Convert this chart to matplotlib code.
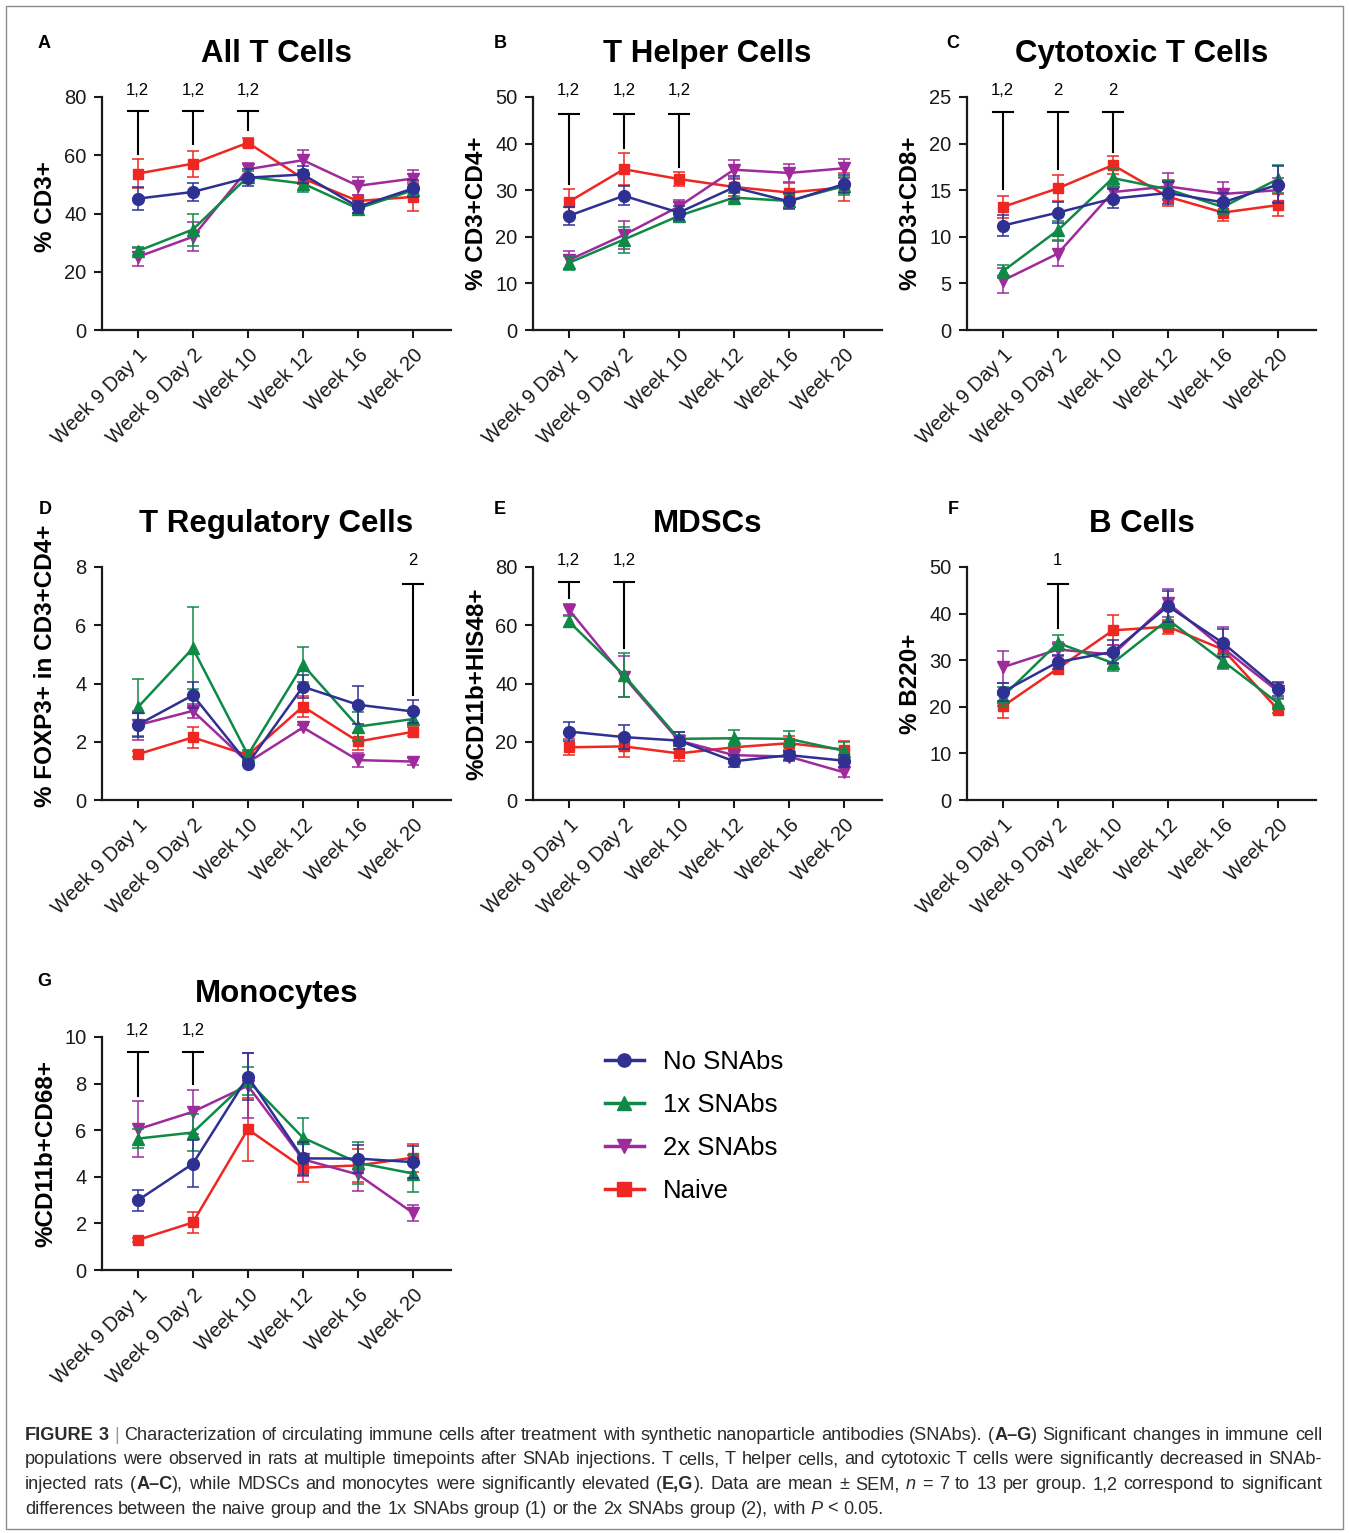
import matplotlib
matplotlib.use('Agg')
import matplotlib.pyplot as plt
from matplotlib.lines import Line2D
from matplotlib.patches import Rectangle

plt.rcParams['font.family'] = ['Liberation Sans', 'DejaVu Sans']

timepoints = ['Week 9 Day 1', 'Week 9 Day 2', 'Week 10', 'Week 12', 'Week 16', 'Week 20']
groups = ['No SNAbs', '1x SNAbs', '2x SNAbs', 'Naive']
group_colors = ['#2E3192', '#0E8A46', '#9E2A9C', '#EE2722']
group_markers = ['o', '^', 'v', 's']
group_msize = [8.5, 8.5, 8.5, 7.5]

# means / SEM per group, order: No SNAbs, 1x, 2x, Naive
cd3_mean = [[45.1, 47.4, 52.3, 53.4, 42.3, 48.6],
            [27.1, 34.5, 52.6, 50.3, 41.7, 48.0],
            [25.1, 32.0, 55.2, 58.3, 49.5, 52.0],
            [53.7, 57.1, 64.3, 52.0, 44.3, 45.7]]
cd3_sem = [[4, 3, 3, 3, 2, 3],
           [1.5, 5.5, 2, 3, 1.5, 2],
           [3, 5, 2, 3.5, 3, 3],
           [5, 4.4, 1.5, 2, 2, 5]]
cd3_sig = [(0, 60.5, 75.3, '1,2'), (1, 63.9, 75.3, '1,2'), (2, 68.5, 75.3, '1,2')]

cd4_mean = [[24.5, 28.8, 25.2, 30.6, 27.6, 31.3],
            [14.4, 19.4, 24.5, 28.4, 27.7, 30.9],
            [15.0, 20.4, 26.5, 34.4, 33.7, 34.7],
            [27.5, 34.5, 32.4, 30.7, 29.5, 30.6]]
cd4_sem = [[2, 2, 1.5, 2.5, 1.7, 2],
           [1.5, 2.8, 1.2, 1, 1.5, 2],
           [2, 3, 1.3, 2, 2, 2],
           [2.7, 3.4, 1.5, 2, 2, 3]]
cd4_sig = [(0, 31.3, 46.4, '1,2'), (1, 39.1, 46.4, '1,2'), (2, 35.0, 46.4, '1,2')]

cd8_mean = [[11.2, 12.6, 14.1, 14.7, 13.7, 15.6],
            [6.3, 10.7, 16.3, 15.1, 13.2, 16.2],
            [5.3, 8.2, 14.8, 15.4, 14.6, 15.0],
            [13.2, 15.2, 17.7, 14.3, 12.6, 13.4]]
cd8_sem = [[1.1, 1.1, 1.0, 1.2, 1.0, 2.0],
           [0.7, 1.0, 1.0, 1.0, 0.8, 1.5],
           [1.3, 1.3, 0.8, 1.4, 1.3, 1.3],
           [1.2, 1.4, 1.0, 1.0, 0.9, 1.2]]
cd8_sig = [(0, 15.1, 23.4, '1,2'), (1, 17.3, 23.4, '2'), (2, 19.1, 23.4, '2')]

treg_mean = [[2.58, 3.60, 1.25, 3.89, 3.27, 3.04],
             [3.18, 5.21, 1.55, 4.64, 2.52, 2.78],
             [2.57, 3.06, 1.29, 2.49, 1.37, 1.32],
             [1.57, 2.15, 1.54, 3.21, 2.01, 2.34]]
treg_sem = [[0.4, 0.45, 0.05, 0.4, 0.65, 0.4],
            [0.98, 1.4, 0.15, 0.6, 0.5, 0.2],
            [0.5, 0.25, 0.05, 0.1, 0.25, 0.12],
            [0.1, 0.35, 0.1, 0.35, 0.3, 0.15]]
treg_sig = [(5, 3.6, 7.43, '2')]

mdsc_mean = [[23.5, 21.6, 20.4, 13.3, 15.4, 13.5],
             [61.3, 42.9, 21.0, 21.2, 21.0, 16.9],
             [65.4, 42.3, 20.4, 15.4, 14.9, 9.5],
             [18.1, 18.4, 16.0, 18.1, 19.5, 17.3]]
mdsc_sem = [[3.3, 4, 3, 2, 1.5, 2],
            [2, 7.5, 2.5, 2.8, 2.8, 3],
            [2, 7, 2, 1.5, 1.5, 1.5],
            [2.7, 3.8, 2.5, 3, 2.5, 3]]
mdsc_sig = [(0, 69.2, 74.9, '1,2'), (1, 52.1, 74.9, '1,2')]

bcell_mean = [[23.2, 29.6, 31.8, 41.6, 33.7, 23.8],
              [22.2, 33.7, 29.4, 38.7, 29.8, 20.8],
              [28.5, 32.3, 31.2, 42.3, 32.6, 23.3],
              [20.1, 28.2, 36.4, 37.2, 32.3, 19.4]]
bcell_sem = [[2, 1.5, 2.5, 3.3, 3, 1.5],
             [2, 1.8, 1.8, 2, 1.5, 1],
             [3.5, 1.5, 2, 3, 4.5, 1.7],
             [2.5, 0.8, 3.2, 1.5, 1.5, 0.8]]
bcell_sig = [(1, 36.9, 46.4, '1')]

mono_mean = [[2.99, 4.56, 8.30, 4.79, 4.78, 4.63],
             [5.64, 5.90, 8.13, 5.68, 4.60, 4.14],
             [6.04, 6.79, 7.91, 4.75, 4.10, 2.45],
             [1.29, 2.04, 6.04, 4.39, 4.49, 4.82]]
mono_sem = [[0.45, 1.0, 1.0, 0.7, 0.6, 0.7],
            [0.4, 0.8, 0.6, 0.85, 0.9, 0.8],
            [1.2, 0.95, 1.4, 0.7, 0.7, 0.35],
            [0.1, 0.45, 1.35, 0.6, 0.7, 0.6]]
mono_sig = [(0, 7.48, 9.35, '1,2'), (1, 7.99, 9.35, '1,2')]

caption_lines = [
    "*FIGURE 3* | Characterization of circulating immune cells after treatment with synthetic nanoparticle "
    "antibodies (SNAbs). (*A–G*) Significant changes in immune cell",
    "populations were observed in rats at multiple timepoints after SNAb injections. T cells, T helper cells, "
    "and cytotoxic T cells were significantly decreased in SNAb-",
    "injected rats (*A–C*), while MDSCs and monocytes were significantly elevated (*E,G*). Data are mean ± SEM, "
    "_n_ = 7 to 13 per group. 1,2 correspond to significant",
    "differences between the naive group and the 1x SNAbs group (1) or the 2x SNAbs group (2), with _P_ < 0.05.",
]

W, H = 1349, 1533
fig = plt.figure(figsize=(W / 100, H / 100), dpi=100)
fig.patch.set_facecolor('white')


def add_panel(left, top, width, height):
    return fig.add_axes([left / W, 1 - (top + height) / H, width / W, height / H])


def draw_panel(ax, letter, letter_xy, title, ylabel, means, sems, ymax, ystep, sig, label_y=0.5):
    x = list(range(len(timepoints)))
    for gi in [3, 2, 1, 0]:
        ax.errorbar(x, means[gi], yerr=sems[gi], color=group_colors[gi],
                    marker=group_markers[gi], ms=group_msize[gi], lw=1.8,
                    elinewidth=1.1, capsize=4, capthick=1.1, clip_on=False,
                    zorder=3 + (3 - gi))
    for xi, lo, hi, lab in sig:
        ax.plot([xi, xi], [lo, hi], color='black', lw=1.5, clip_on=False, zorder=8)
        ax.plot([xi - 0.18, xi + 0.18], [hi, hi], color='black', lw=1.5,
                clip_on=False, zorder=8)
        ax.annotate(lab, xy=(xi, ymax), xytext=(0, 4.5), textcoords='offset points',
                    ha='center', va='center', fontsize=12, annotation_clip=False)

    ax.set_xlim(-0.65, 5.69)
    ax.set_ylim(0, ymax)
    ax.set_yticks(range(0, ymax + 1, ystep))
    ax.set_xticks(x)
    ax.set_xticklabels(timepoints, rotation=45, ha='right', rotation_mode='anchor')
    ax.tick_params(direction='out', length=6, width=1.5, labelsize=14.5, pad=5,
                   colors='#1a1a1a')
    for side in ['top', 'right']:
        ax.spines[side].set_visible(False)
    for side in ['left', 'bottom']:
        ax.spines[side].set_linewidth(1.6)
        ax.spines[side].set_color('#1a1a1a')
    ax.set_ylabel(ylabel, fontsize=17.5, fontweight='bold')
    ax.yaxis.set_label_coords(-45 / 349, label_y)
    ax.set_title(title, fontsize=22.5, fontweight='bold', pad=25)
    fig.text(letter_xy[0] / W, 1 - letter_xy[1] / H, letter, fontsize=13,
             fontweight='bold', ha='center', va='center')


cols = [102, 533, 967]
rows = [97, 567, 1037]
pw, ph = 349, 233

draw_panel(add_panel(cols[0], rows[0], pw, ph), 'A', (44, 43), 'All T Cells', '% CD3+',
           cd3_mean, cd3_sem, 80, 20, cd3_sig, 0.53)
draw_panel(add_panel(cols[1], rows[0], pw, ph), 'B', (500, 43), 'T Helper Cells', '% CD3+CD4+',
           cd4_mean, cd4_sem, 50, 10, cd4_sig)
draw_panel(add_panel(cols[2], rows[0], pw, ph), 'C', (953, 43), 'Cytotoxic T Cells', '% CD3+CD8+',
           cd8_mean, cd8_sem, 25, 5, cd8_sig)
draw_panel(add_panel(cols[0], rows[1], pw, ph), 'D', (45, 510), 'T Regulatory Cells',
           '% FOXP3+ in CD3+CD4+', treg_mean, treg_sem, 8, 2, treg_sig, 0.575)
draw_panel(add_panel(cols[1], rows[1], pw, ph), 'E', (500, 510), 'MDSCs', '%CD11b+HIS48+',
           mdsc_mean, mdsc_sem, 80, 20, mdsc_sig)
draw_panel(add_panel(cols[2], rows[1], pw, ph), 'F', (953, 510), 'B Cells', '% B220+',
           bcell_mean, bcell_sem, 50, 10, bcell_sig)
draw_panel(add_panel(cols[0], rows[2], pw, ph), 'G', (44, 981), 'Monocytes', '%CD11b+CD68+',
           mono_mean, mono_sem, 10, 2, mono_sig)

# legend
handles = [Line2D([], [], color=c, marker=m, lw=2.5, ms=9.5)
           for c, m in zip(group_colors, group_markers)]
fig.legend(handles, groups, loc='upper left', bbox_to_anchor=(605 / W, 1 - 1050 / H),
           frameon=False, fontsize=18.5, handlelength=1.5, handletextpad=0.75,
           labelspacing=0.74, borderaxespad=0, borderpad=0)


# caption, word by word so the lines can be justified
style_state = {'bold': False, 'italic': False}


def parse_word(word):
    runs = []
    buf = ''
    for ch in word:
        if ch in '*_':
            if buf:
                runs.append((buf, style_state['bold'], style_state['italic']))
                buf = ''
            key = 'bold' if ch == '*' else 'italic'
            style_state[key] = not style_state[key]
        else:
            buf += ch
    if buf:
        runs.append((buf, style_state['bold'], style_state['italic']))
    return runs


renderer = fig.canvas.get_renderer()
cap_size = 13.1
cap_left, cap_right = 25, 1322
baseline = 1440
for li, line in enumerate(caption_lines):
    words = []
    for word in line.split(' '):
        pieces = []
        for txt, bold, italic in parse_word(word):
            color = '#9a9a9a' if txt == '|' else '#2b2b2b'
            t = fig.text(0, 1 - baseline / H, txt, fontsize=cap_size,
                         fontweight='bold' if bold else 'normal',
                         fontstyle='italic' if italic else 'normal',
                         color=color, ha='left', va='baseline')
            pieces.append((t, t.get_window_extent(renderer).width))
        words.append(pieces)
    widths = [sum(w for _, w in p) for p in words]
    if li < len(caption_lines) - 1:
        gap = (cap_right - cap_left - sum(widths)) / (len(words) - 1)
    else:
        gap = cap_size * 100 / 72 * 0.28
    xpos = cap_left
    for pieces, width in zip(words, widths):
        xx = xpos
        for t, w in pieces:
            t.set_x(xx / W)
            xx += w
        xpos += width + gap
    baseline += 24.5

fig.add_artist(Rectangle((6 / W, 4 / H), (W - 12) / W, (H - 10) / H, transform=fig.transFigure,
                         fill=False, edgecolor='#8c8c8c', lw=1))

fig.savefig('out.png', dpi=100, facecolor='white')
